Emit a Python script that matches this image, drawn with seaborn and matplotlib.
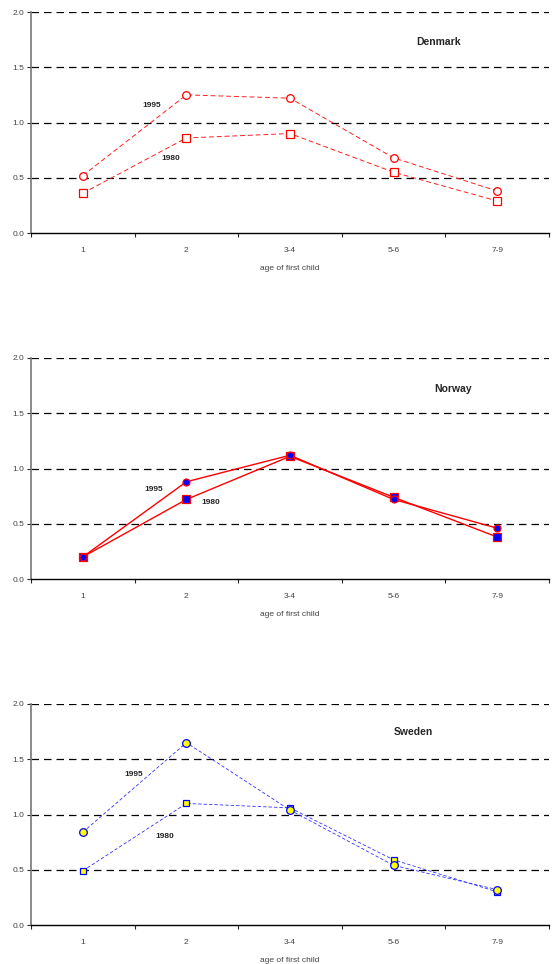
import numpy as np
import pandas as pd
import matplotlib
matplotlib.use("Agg")
import matplotlib.pyplot as plt
import seaborn as sns

# ── DATA ──────────────────────────────────────────────────────────────────────
AGES = ["1", "2", "3-4", "5-6", "7-9"]

DK_1995 = [0.52, 1.25, 1.22, 0.68, 0.38]
DK_1980 = [0.36, 0.86, 0.90, 0.55, 0.29]
NO_1995 = [0.20, 0.88, 1.12, 0.72, 0.46]
NO_1980 = [0.20, 0.72, 1.11, 0.74, 0.38]
SE_1995 = [0.84, 1.65, 1.04, 0.54, 0.32]
SE_1980 = [0.49, 1.10, 1.06, 0.59, 0.30]

COUNTRIES = ["Denmark", "Norway", "Sweden"]

# ── STYLE ─────────────────────────────────────────────────────────────────────
sns.set_style("white")
plt.rcParams["font.family"] = ["Liberation Sans", "DejaVu Sans"]

W, H = 553, 964
fig = plt.figure(figsize=(W / 100, H / 100), dpi=100)

# axes boxes in pixels: (left, top_of_2.0, bottom_of_0.0)
panels = [(31, 12, 233), (31, 358, 579), (31, 704, 925)]

# series drawn 1980 first so the 1995 markers sit on top
styles = {
    "Denmark": dict(
        data=(DK_1980, DK_1995), color="#ff2020", ls=(0, (5, 3)), lw=0.7,
        mk=("s", "o"), ms=(5.5, 5.5), fc=("white", "white"), ec=("red", "red"),
        title=(3.43, 1.73), l95=(0.67, 1.15), l80=(0.85, 0.67)),
    "Norway": dict(
        data=(NO_1980, NO_1995), color="red", ls="-", lw=1.0,
        mk=("s", "o"), ms=(5.5, 5), fc=("blue", "blue"), ec=("red", "red"),
        title=(3.57, 1.72), l95=(0.68, 0.81), l80=(1.24, 0.69)),
    "Sweden": dict(
        data=(SE_1980, SE_1995), color="#3030ff", ls=(0, (4, 2.5)), lw=0.6,
        mk=("s", "o"), ms=(3.8, 5.5), fc=("yellow", "yellow"), ec=("blue", "blue"),
        title=(3.19, 1.75), l95=(0.49, 1.36), l80=(0.79, 0.80)),
}

x = np.arange(len(AGES))
for country, (left, top, bot) in zip(COUNTRIES, panels):
    st = styles[country]
    ax = fig.add_axes([left / W, (H - bot) / H, (549 - left) / W, (bot - top) / H])

    for yy in [0.5, 1.0, 1.5, 2.0]:
        ax.axhline(yy, color="black", lw=0.9, ls=(0, (6, 4)), zorder=0)

    for vals, mk, ms, fc, ec in zip(st["data"], st["mk"], st["ms"], st["fc"], st["ec"]):
        df = pd.DataFrame({"age": x, "val": vals})
        sns.lineplot(data=df, x="age", y="val", ax=ax, color=st["color"],
                     linestyle=st["ls"], linewidth=st["lw"], marker=mk,
                     markersize=ms, markerfacecolor=fc, markeredgecolor=ec,
                     markeredgewidth=0.9, zorder=3)

    ax.set_xlim(-0.5, 4.5)
    ax.set_ylim(0, 2.0)
    ax.set_yticks([0, 0.5, 1.0, 1.5, 2.0])
    ax.set_yticklabels(["0.0", "0.5", "1.0", "1.5", "2.0"], fontsize=6, color="#444444")
    ax.set_xticks(np.arange(-0.5, 4.6, 1.0))
    ax.set_xticklabels([])
    ax.set_xticks(x, minor=True)
    ax.set_xticklabels(AGES, minor=True, fontsize=6, color="#444444")
    ax.tick_params(axis="x", which="major", length=3, width=0.8, direction="out", bottom=True)
    ax.tick_params(axis="x", which="minor", length=0, pad=10)
    ax.tick_params(axis="y", length=3, width=0.8, direction="out", left=True, pad=2)
    ax.set_xlabel("age of first child", fontsize=6, color="#444444", labelpad=8)
    ax.set_ylabel("")

    for s in ["top", "right"]:
        ax.spines[s].set_visible(False)
    ax.spines["left"].set_color("#777777")
    ax.spines["left"].set_linewidth(1.2)
    ax.spines["bottom"].set_color("black")
    ax.spines["bottom"].set_linewidth(1.0)

    ax.text(*st["title"], country, fontsize=7.5, fontweight="bold", ha="center", va="center")
    ax.text(*st["l95"], "1995", fontsize=6, fontweight="bold", ha="center", va="center")
    ax.text(*st["l80"], "1980", fontsize=6, fontweight="bold", ha="center", va="center")

plt.savefig("out.png", dpi=100)
plt.close()
